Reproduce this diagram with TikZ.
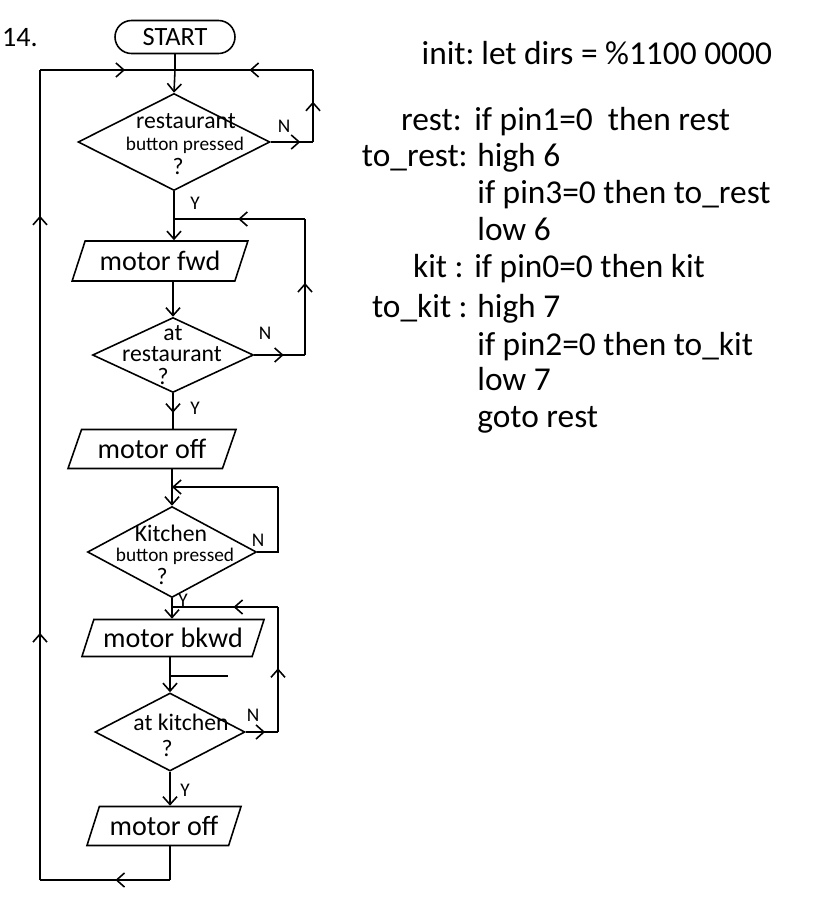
\documentclass[tikz,border=0pt]{standalone}
\usepackage{fontspec}
\setmainfont{Carlito}
\usetikzlibrary{shapes.geometric,shapes.misc,arrows.meta,decorations.markings}

\tikzset{
  flow/.style={line width=0.9pt},
  arr/.style={flow,-{Straight Barb[length=4.5pt,width=8pt]}},
  midarr/.style={flow,postaction={decorate,decoration={markings,mark=at position #1 with {\arrow{Straight Barb[length=4.5pt,width=8pt]}}}}},
  term/.style={rounded rectangle,draw,line width=0.9pt,minimum width=2.4cm,minimum height=0.66cm,inner sep=0pt,font=\fontsize{15}{17}\selectfont},
  decision/.style={diamond,draw,line width=0.9pt,inner sep=0pt},
  io/.style={trapezium,trapezium left angle=62,trapezium right angle=118,trapezium stretches=true,draw,line width=0.9pt,inner sep=0pt,font=\fontsize{16}{18}\selectfont},
  txt/.style={font=\fontsize{13.5}{15}\selectfont,inner sep=0pt},
  small/.style={font=\fontsize{11}{12}\selectfont,inner sep=0pt},
  yn/.style={font=\fontsize{11}{13}\selectfont,inner sep=0pt},
  code/.style={font=\fontsize{19}{22}\selectfont,inner sep=0pt,anchor=base west},
  codelbl/.style={code,anchor=base east}
}

\begin{document}
\begin{tikzpicture}[x=0.02cm,y=-0.02cm]
\useasboundingbox (0,0) rectangle (821,900);

% flowchart boxes
\node[txt,font=\fontsize{16}{18}\selectfont] (num) at (20,38) {14.};
\node[term] (start) at (175,37) {START};

\node[decision,minimum width=3.84cm,minimum height=1.94cm] (d1) at (174,142) {};
\node[txt] (d1a) at (186,121) {restaurant};
\node[small] (d1b) at (185,145) {button pressed};
\node[txt] (d1c) at (178,166) {?};

\node[io,minimum width=3.52cm,minimum height=0.8cm] (fwd) at (160,261) {motor fwd};

\node[decision,minimum width=3.22cm,minimum height=1.5cm] (d2) at (173,355) {};
\node[txt] (d2a) at (173,333) {at};
\node[txt] (d2b) at (172,354) {restaurant};
\node[txt] (d2c) at (163,376) {?};

\node[io,minimum width=3.38cm,minimum height=0.78cm] (off1) at (152,449) {motor off};

\node[decision,minimum width=3.38cm,minimum height=1.82cm] (d3) at (172,552) {};
\node[txt] (d3a) at (171,533) {Kitchen};
\node[small] (d3b) at (175,556) {button pressed};
\node[txt] (d3c) at (162,576) {?};

\node[io,minimum width=3.66cm,minimum height=0.74cm] (bkwd) at (173,638) {motor bkwd};

\node[decision,minimum width=3.0cm,minimum height=1.56cm] (d4) at (170,732) {};
\node[txt] (d4a) at (181,722) {at kitchen};
\node[txt] (d4c) at (167,748) {?};

\node[io,minimum width=3.1cm,minimum height=0.78cm] (off2) at (164,826) {motor off};

% Y / N labels
\node[yn] (n1) at (284,126) {N};
\node[yn] (y1) at (195,203) {Y};
\node[yn] (n2) at (265,333) {N};
\node[yn] (y2) at (195,408) {Y};
\node[yn] (n3) at (258,540) {N};
\node[yn] (y3) at (183,600) {Y};
\node[yn] (n4) at (253,715) {N};
\node[yn] (y4) at (185,790) {Y};

% junctions and corners
\coordinate (j1) at (175,70);
\coordinate (j2) at (174,219);
\coordinate (j3) at (172,487);
\coordinate (j4) at (172,607);
\coordinate (r1a) at (313,142); \coordinate (r1b) at (313,70);
\coordinate (r2a) at (305,355); \coordinate (r2b) at (305,219);
\coordinate (r3a) at (278,552); \coordinate (r3b) at (278,487);
\coordinate (r4a) at (278,732); \coordinate (r4b) at (278,607);
\coordinate (b1) at (170,880); \coordinate (b2) at (40,880); \coordinate (b3) at (40,70);
\coordinate (stray) at (228,676);

% main line
\draw[flow] (start.south) -- (j1);
\draw[arr] (j1) -- (d1.north);
\draw[flow] (d1.south) -- (j2);
\draw[arr] (j2) -- (j2 |- fwd.north);
\draw[arr] (d2.north |- fwd.south) -- (d2.north);
\draw[midarr=0.55] (d2.south) -- (d2.south |- off1.north);
\draw[flow] (j3 |- off1.south) -- (j3);
\draw[arr] (j3) -- (d3.north);
\draw[flow] (d3.south) -- (j4);
\draw[arr] (j4) -- (j4 |- bkwd.north);
\draw[arr] (d4.north |- bkwd.south) -- (d4.north);
\draw[flow] (d4.north |- stray) -- (stray);
\draw[arr] (d4.south) -- (d4.south |- off2.north);

% N loops
\draw[midarr=0.7] (d1.east) -- (r1a);
\draw[midarr=0.56] (r1a) -- (r1b);
\draw[midarr=0.46] (r1b) -- (j1);
\draw[midarr=0.58] (d2.east) -- (r2a);
\draw[midarr=0.53] (r2a) -- (r2b);
\draw[midarr=0.51] (r2b) -- (j2);
\draw[flow] (d3.east) -- (r3a) -- (r3b);
\draw[arr] (r3b) -- (j3);
\draw[midarr=0.6] (d4.east) -- (r4a);
\draw[midarr=0.51] (r4a) -- (r4b);
\draw[midarr=0.42] (r4b) -- (j4);

% return to start
\draw[flow] (off2.south -| b1) -- (b1);
\draw[midarr=0.42] (b1) -- (b2);
\draw[midarr=0.305,midarr=0.82] (b2) -- (b3);
\draw[midarr=0.63] (b3) -- (j1);

% program
\node[codelbl] (l1) at (475,64) {init:};
\node[code] (c1) at (481,64) {let dirs = \%1100 0000};
\node[codelbl] (l2) at (462,130) {rest:};
\node[code] (c2) at (474,130) {if pin1=0 \ then rest};
\node[codelbl] (l3) at (468,166) {to\_rest:};
\node[code] (c3) at (477,166) {high 6};
\node[code] (c4) at (477,203) {if pin3=0 then to\_rest};
\node[code] (c5) at (477,240) {low 6};
\node[codelbl] (l6) at (464,277) {kit :};
\node[code] (c6) at (474,277) {if pin0=0 then kit};
\node[codelbl] (l7) at (468,317) {to\_kit :};
\node[code] (c7) at (477,317) {high 7};
\node[code] (c8) at (477,355) {if pin2=0 then to\_kit};
\node[code] (c9) at (477,390) {low 7};
\node[code] (c10) at (477,427) {goto rest};
\end{tikzpicture}
\end{document}
